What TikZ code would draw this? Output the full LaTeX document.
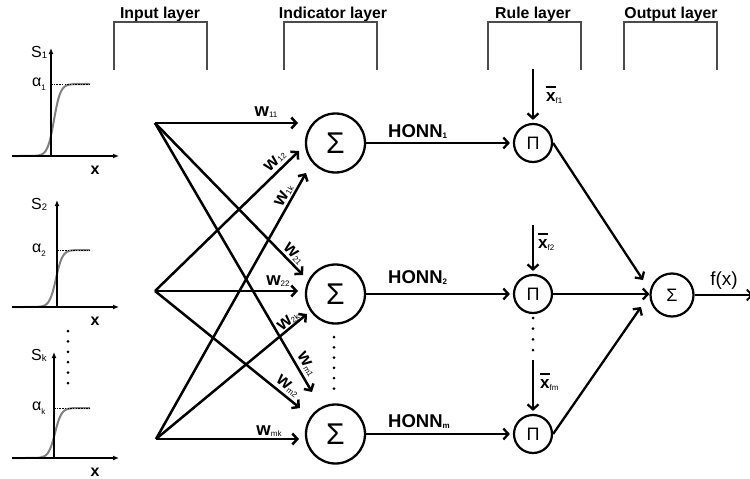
\documentclass[tikz,border=0pt]{standalone}
\usepackage{fontspec}
\setmainfont{Liberation Sans}
\usetikzlibrary{arrows.meta,calc}
% small lowered index, optional shift
\newcommand\lsub[2][-1pt]{\raisebox{#1}{\fontsize{8}{8}\selectfont\mdseries #2}}
% bold x with a bar over it
\newcommand\xbar{\leavevmode\rlap{\raisebox{0.78em}{\rule{0.56em}{1.7pt}}}x}
\begin{document}
\begin{tikzpicture}[x=1pt,y=-1pt,
  wire/.style={line width=2.5pt,-{Straight Barb[length=5pt,width=11pt]}},
  hwire/.style={line width=2.3pt,shorten >=3pt,-{Straight Barb[length=5pt,width=11pt]}},
  sumnode/.style={circle,draw,line width=2.3pt,minimum size=59pt,inner sep=0pt,font=\fontsize{30}{30}\selectfont},
  prodnode/.style={circle,draw,line width=2.2pt,minimum size=38pt,inner sep=0pt,font=\fontsize{18}{18}\selectfont},
  outnode/.style={circle,draw,line width=2.2pt,minimum size=43pt,inner sep=0pt,font=\fontsize{18}{18}\selectfont},
  header/.style={font=\bfseries\fontsize{15.8}{16}\selectfont,anchor=base,inner sep=0pt},
  bracket/.style={line width=1.3pt,black!70},
  wl/.style={font=\bfseries\fontsize{18.5}{18}\selectfont,inner sep=0pt},
  honn/.style={font=\bfseries\fontsize{18.5}{18}\selectfont,anchor=base west,inner sep=0pt},
  xf/.style={font=\bfseries\fontsize{17}{17}\selectfont,anchor=base west,inner sep=0pt},
  axis/.style={line width=2pt,-{Latex[length=6pt,width=5pt]}},
  sig/.style={line width=2pt,gray},
  plotlab/.style={anchor=base west,inner sep=0pt,font=\fontsize{16}{16}\selectfont}]
\useasboundingbox (0,0) rectangle (750,479);

% layer headers with their brackets
\node[header] (hin)   at (160,19) {Input layer};
\node[header] (hind)  at (333,19) {Indicator layer};
\node[header] (hrule) at (533,19) {Rule layer};
\node[header] (hout)  at (671,19) {Output layer};
\draw[bracket] (114,70) -- (114,22) -- (207,22) -- (207,70);
\draw[bracket] (284,70) -- (284,22) -- (377,22) -- (377,70);
\draw[bracket] (488,70) -- (488,22) -- (581,22) -- (581,70);
\draw[bracket] (624,70) -- (624,22) -- (717,22) -- (717,70);

% membership plots: axis x / baseline / plateau / arrow top / centre / S baseline / index / x-label baseline
\foreach \ax/\yb/\yt/\ytip/\xc/\sy/\sb/\xy in
  {51/156/84/48/54/57/1/174, 57/307/250/200/56/209/2/325, 54/458/408/352/55/360/k/476}{
  \draw[sig] plot[domain=12:90,samples=100,smooth] (\x,{\yb-(\yb-\yt)*(1+tanh((\x-\xc)/6.5))/2});
  \draw[line width=1pt,dash pattern=on 1.5pt off 1.2pt] (\ax,\yt) -- (90,\yt);
  \draw[axis] (12,\yb) -- (119,\yb);
  \draw[axis] (\ax,\yb) -- (\ax,\ytip);
  \node[plotlab] at (31,\sy) {S\lsub[-1pt]{\fontsize{9.5}{9.5}\selectfont\sb}};
  \node[plotlab] at (32,\yt+2) {α\lsub[-4pt]{\sb}};
  \node[anchor=base,inner sep=0pt,font=\bfseries\fontsize{16}{16}\selectfont] at (95,\xy) {x};
}
\foreach \k in {0,...,5} \fill (68,331+\k*10.4) circle (1.5);

% input fan points
\coordinate (in1) at (155,123);
\coordinate (in2) at (155,291);
\coordinate (inm) at (156,439);

% indicator neurons
\node[sumnode] (s1) at (335.5,143) {Σ};
\node[sumnode] (s2) at (335.5,294) {Σ};
\node[sumnode] (sm) at (335.5,434) {Σ};
\foreach \k in {0,...,5} \fill (334,337+\k*10.3) circle (1.5);

% weight arrow ends
\coordinate (t11) at (298,123);
\coordinate (t12) at (299,151);
\coordinate (t1k) at (306,173);
\coordinate (t21) at (303,275);
\coordinate (t22) at (298,291);
\coordinate (t2k) at (307,314);
\coordinate (tm1) at (312,392);
\coordinate (tm2) at (300,408);
\coordinate (tmk) at (299,439);

\draw[wire] (in1) -- (t11);
\draw[wire] (in1) -- (t21);
\draw[wire] (in1) -- (tm1);
\draw[wire] (in2) -- (t12);
\draw[wire] (in2) -- (t22);
\draw[wire] (in2) -- (tm2);
\draw[wire] (inm) -- (t1k);
\draw[wire] (inm) -- (t2k);
\draw[wire] (inm) -- (tmk);

% weight labels
\node[wl] (w11) at (266,112) {w\lsub{11}};
\node[wl,rotate=44] (w12) at (275,161) {w\lsub{12}};
\node[wl,rotate=60.6] (w1k) at (284,195) {w\lsub{1k}};
\node[wl,rotate=-45.8] (w21) at (294,254) {w\lsub{21}};
\node[wl] (w22) at (278,281) {w\lsub{22}};
\node[wl,rotate=39.6] (w2k) at (288,321) {w\lsub{2k}};
\node[wl,rotate=-59.7] (wm1) at (307,364) {w\lsub{m1}};
\node[wl,rotate=-38.9] (wm2) at (288,386) {w\lsub{m2}};
\node[wl] (wmk) at (269,431) {w\lsub{mk}};

% rule neurons
\node[prodnode] (p1) at (533,143) {Π};
\node[prodnode] (p2) at (533,294) {Π};
\node[prodnode] (pm) at (533,434) {Π};
\foreach \k in {0,...,3} \fill (533,318+\k*10.7) circle (1.5);

\draw[hwire] (s1.east) -- (p1.west);
\draw[hwire] (s2.east) -- (p2.west);
\draw[hwire] (sm.east) -- (pm.west);
\node[honn] (h1) at (388,137) {HONN\lsub{\bfseries 1}};
\node[honn] (h2) at (388,283) {HONN\lsub{\bfseries 2}};
\node[honn] (hm) at (388,427) {HONN\lsub{\bfseries m}};

% centre inputs of the rules
\coordinate (r1) at (533,69);
\coordinate (r2) at (533,225);
\coordinate (rm) at (533,360);
\draw[hwire] (r1) -- (p1.north);
\draw[hwire] (r2) -- (p2.north);
\draw[hwire] (rm) -- (pm.north);
\node[xf] (x1) at (546,101) {\xbar\lsub[-2pt]{f1}};
\node[xf] (x2) at (538,248) {\xbar\lsub[-2pt]{f2}};
\node[xf] (xm) at (540,388) {\xbar\lsub[-2pt]{fm}};

% output neuron
\node[outnode] (so) at (672,295) {Σ};
\coordinate (o1) at (643,280);
\coordinate (om) at (641,307);
\draw[wire,line width=2.3pt] (p1.east) -- (o1);
\draw[wire,line width=2.3pt] (p2.east) -- (p2.east -| so.west);
\draw[wire,line width=2.3pt] (pm.east) -- (om);
\coordinate (fx) at (753,295);
\draw[line width=1.8pt,-{Straight Barb[length=5pt,width=11pt]}] (so.east) -- (fx);
\node[anchor=base,inner sep=0pt,font=\fontsize{19}{19}\selectfont] (flab) at (724,285) {f(x)};
\end{tikzpicture}
\end{document}
